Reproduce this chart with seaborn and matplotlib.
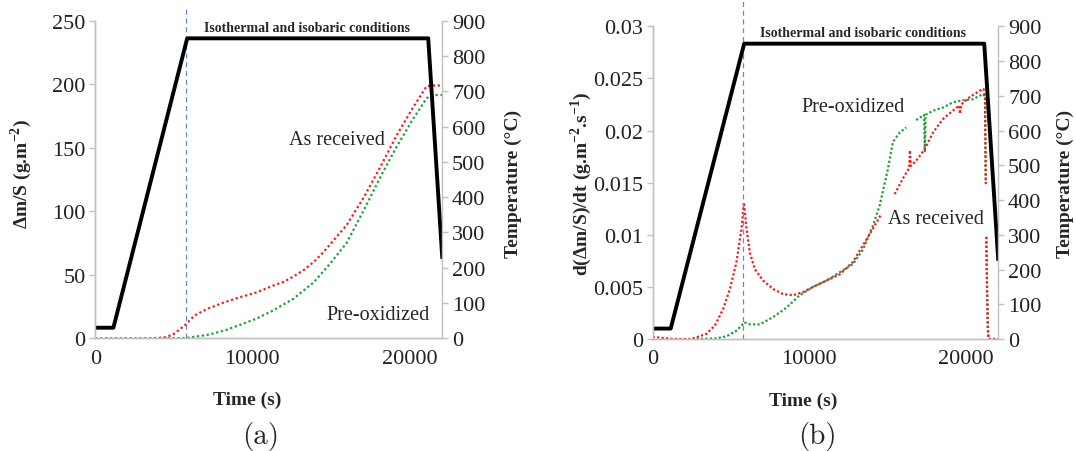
import numpy as np
import pandas as pd
import matplotlib
matplotlib.use("Agg")
import matplotlib.pyplot as plt
import seaborn as sns

# ---------------- data ----------------
# temperature programme (right axes, both panels)
temp_time = [0, 1150, 5850, 21200, 22100]
temp_val = [30, 30, 850, 850, 225]

# panel (a): mass gain per unit surface (g.m-2)
a_red_t = [0, 3000, 4000, 4500, 5000, 5400, 5800, 6300, 7100, 8200, 9200, 10300,
           11300, 12000, 12600, 13300, 13900, 14500, 15200, 16000, 17100, 18200,
           19200, 20200, 21100, 21500, 22100]
a_red_v = [0, 0, 0.3, 0.9, 3.4, 7.3, 11.3, 17.8, 23, 28.3, 32.3, 36.2,
           41.4, 44.5, 48.5, 54, 60, 67.5, 77.5, 89, 111, 136,
           160, 181, 198.5, 199, 199]
a_green_t = [4300, 5000, 5800, 7100, 8200, 9200, 10300, 11300, 12600, 13900,
             14900, 16000, 17100, 18200, 19200, 20200, 21100, 21500, 22100]
a_green_v = [0, 0.1, 0.3, 2.6, 6, 10.5, 15.7, 21.8, 31, 44,
             58, 75, 101, 128, 151, 172, 189, 191.5, 191.5]

# panel (b): rate d(dm/S)/dt (g.m-2.s-1), drawn in segments (gaps in record)
b_red_t1 = [0, 1300, 2400, 2800, 3450, 3980, 4510, 4940, 5360, 5680, 5830, 6000,
            6210, 6530, 7065, 7700, 8340, 8980, 9620, 10260, 11110, 11960, 12810,
            13450, 14090, 14620]
b_red_v1 = [0.0002, 0, 0, 0.00016, 0.0005, 0.0013, 0.0029, 0.0048, 0.0074, 0.0106,
            0.0131, 0.0106, 0.0083, 0.0067, 0.0056, 0.0048, 0.0043, 0.0042, 0.0045,
            0.005, 0.0056, 0.0062, 0.0074, 0.009, 0.0106, 0.012]
b_red_t2 = [15470, 16000, 16400, 16450, 16500, 16850, 17390, 17920, 18560, 19190,
            19600, 19650, 19730, 20260, 20900, 21150, 21250, 21300]
b_red_v2 = [0.0139, 0.0154, 0.0164, 0.0181, 0.0166, 0.0171, 0.0182, 0.0198, 0.0211,
            0.0219, 0.0224, 0.0216, 0.0225, 0.0232, 0.0238, 0.024, 0.0232, 0.0147]
b_red_t3 = [21330, 21380, 21430, 21480, 22100]
b_red_v3 = [0.0098, 0.005, 0.001, 0, 0]

b_green_t1 = [2800, 4090, 4720, 5360, 5680, 5850, 6210, 6850, 7700, 8550, 9400,
              10260, 11110, 11960, 12810, 13450, 14090, 14510, 15040, 15360, 15790,
              16210]
b_green_v1 = [0, 0.00006, 0.00026, 0.0008, 0.0013, 0.0016, 0.0014, 0.0014, 0.0021,
              0.003, 0.0042, 0.005, 0.0056, 0.0064, 0.0072, 0.0086, 0.0109, 0.0128,
              0.0163, 0.0189, 0.0198, 0.0203]
b_green_t2 = [16850, 17350, 17400, 17450, 17920, 18560, 19190, 19830, 20470, 21110,
              21250, 21300]
b_green_v2 = [0.021, 0.0215, 0.0179, 0.0215, 0.0219, 0.0222, 0.0227, 0.0229, 0.023,
              0.0235, 0.0233, 0.015]
b_green_t3 = [21330, 21380, 21430, 21480, 22100]
b_green_v3 = [0.0098, 0.005, 0.001, 0, 0]

# ---------------- style ----------------
sns.set_theme(style="white")
plt.rcParams["font.family"] = ["Liberation Serif", "DejaVu Serif"]
plt.rcParams["mathtext.fontset"] = "custom"
plt.rcParams["mathtext.rm"] = "Liberation Serif"
plt.rcParams["mathtext.bf"] = "Liberation Serif:bold"

RED = "#f01c24"
GREEN = "#1e9e3c"
BLUE = "#5b8dc8"
SPINE = "#c0c0c0"
TICKFS = 16
LABFS = 14

fig = plt.figure(figsize=(10.76, 4.52), dpi=100)


def seg_df(t, v, seg):
    return pd.DataFrame({"t": t, "v": v, "seg": seg})


def style_axes(ax, ax2, xmax, ymax, yticks, ylabel, ytl_fmt):
    ax.set_xlim(0, xmax)
    ax.set_ylim(0, ymax)
    ax2.set_ylim(0, 900)
    ax.set_xticks([0, 10000, 20000])
    ax.set_yticks(yticks)
    ax.set_yticklabels([ytl_fmt(y) for y in yticks])
    ax2.set_yticks(range(0, 901, 100))
    for a in (ax, ax2):
        for s in a.spines.values():
            s.set_color(SPINE)
            s.set_linewidth(1.0)
        a.spines["top"].set_visible(False)
        a.tick_params(colors="#222222", labelsize=TICKFS, length=4, width=1,
                      color=SPINE, direction="out")
        a.tick_params(axis="y", pad=3)
    ax.spines["right"].set_visible(False)
    ax.set_xlabel("Time (s)", fontsize=LABFS, fontweight="bold", labelpad=1)
    ax.set_ylabel(ylabel, fontsize=LABFS, fontweight="bold")
    ax2.set_ylabel("Temperature (°C)", fontsize=LABFS, fontweight="bold")


def draw_temp(ax2):
    sns.lineplot(x=temp_time, y=temp_val, ax=ax2, color="black", linewidth=2.8,
                 estimator=None, sort=False, solid_capstyle="butt")


# ---------------- panel (a) ----------------
axA = fig.add_axes([0.0886, 0.2493, 0.3225, 0.7027])
sns.lineplot(data=seg_df(a_red_t, a_red_v, 0), x="t", y="v", ax=axA, color=RED,
             linewidth=1.6, linestyle=(0, (1, 1.2)), estimator=None)
sns.lineplot(data=seg_df(a_green_t, a_green_v, 0), x="t", y="v", ax=axA, color=GREEN,
             linewidth=1.6, linestyle=(0, (1, 1.2)), estimator=None)
axA.axvline(5790, ymin=0, ymax=1.045, clip_on=False, color=BLUE, lw=0.9, ls=(0, (4, 3)))
axA2 = axA.twinx()
draw_temp(axA2)
style_axes(axA, axA2, 22100, 250, [0, 50, 100, 150, 200, 250],
           r"Δm/S (g.m$^{\mathbf{-2}}$)", lambda y: f"{y:g}")
axA.xaxis.set_label_coords(0.437, -0.165)
axA.yaxis.set_label_coords(-0.178, 0.52)
axA2.yaxis.set_label_coords(1.18, 0.49)
axA2.text(13470, 244.7 / 250 * 900, "Isothermal and isobaric conditions",
          ha="center", va="center", fontsize=10, fontweight="bold")
axA2.text(15380, 156.3 / 250 * 900, "As received", ha="center", va="center",
          fontsize=LABFS + 0.5)
axA2.text(17990, 18.4 / 250 * 900, "Pre-oxidized", ha="center", va="center",
          fontsize=LABFS + 0.5)

# ---------------- panel (b) ----------------
axB = fig.add_axes([0.6066, 0.2478, 0.3212, 0.6918])
dfr = pd.concat([seg_df(b_red_t1, b_red_v1, 1), seg_df(b_red_t2, b_red_v2, 2),
                 seg_df(b_red_t3, b_red_v3, 3)])
dfg = pd.concat([seg_df(b_green_t1, b_green_v1, 1), seg_df(b_green_t2, b_green_v2, 2),
                 seg_df(b_green_t3, b_green_v3, 3)])
sns.lineplot(data=dfg, x="t", y="v", units="seg", estimator=None, ax=axB, color=GREEN,
             linewidth=1.6, linestyle=(0, (1, 1.0)), sort=False)
sns.lineplot(data=dfr, x="t", y="v", units="seg", estimator=None, ax=axB, color=RED,
             linewidth=1.6, linestyle=(0, (1, 1.0)), sort=False)
axB.axvline(5790, ymin=0, ymax=1.087, clip_on=False, color=BLUE, lw=0.9, ls=(0, (4, 3)))
axB2 = axB.twinx()
draw_temp(axB2)
style_axes(axB, axB2, 22100, 0.03, [0, 0.005, 0.01, 0.015, 0.02, 0.025, 0.03],
           r"d(Δm/S)/dt (g.m$^{\mathbf{-2}}$.s$^{\mathbf{-1}}$)", lambda y: f"{y:g}")
axB.xaxis.set_label_coords(0.435, -0.17)
axB.yaxis.set_label_coords(-0.17, 0.5)
axB2.yaxis.set_label_coords(1.17, 0.5)
axB2.text(13450, 0.02936 / 0.03 * 900, "Isothermal and isobaric conditions",
          ha="center", va="center", fontsize=10, fontweight="bold")
axB2.text(12810, 0.02232 / 0.03 * 900, "Pre-oxidized", ha="center", va="center",
          fontsize=LABFS + 0.5)
axB2.text(18130, 0.01158 / 0.03 * 900, "As received", ha="center", va="center",
          fontsize=LABFS + 0.5)

for a in (axA, axB, axA2, axB2):
    leg = a.get_legend()
    if leg is not None:
        leg.remove()

fig.text(0.2426, 0.035, "(a)", ha="center", va="center", fontsize=21, family="cmr10")
fig.text(0.760, 0.035, "(b)", ha="center", va="center", fontsize=21, family="cmr10")

fig.savefig("out.png", dpi=100, facecolor="white")
